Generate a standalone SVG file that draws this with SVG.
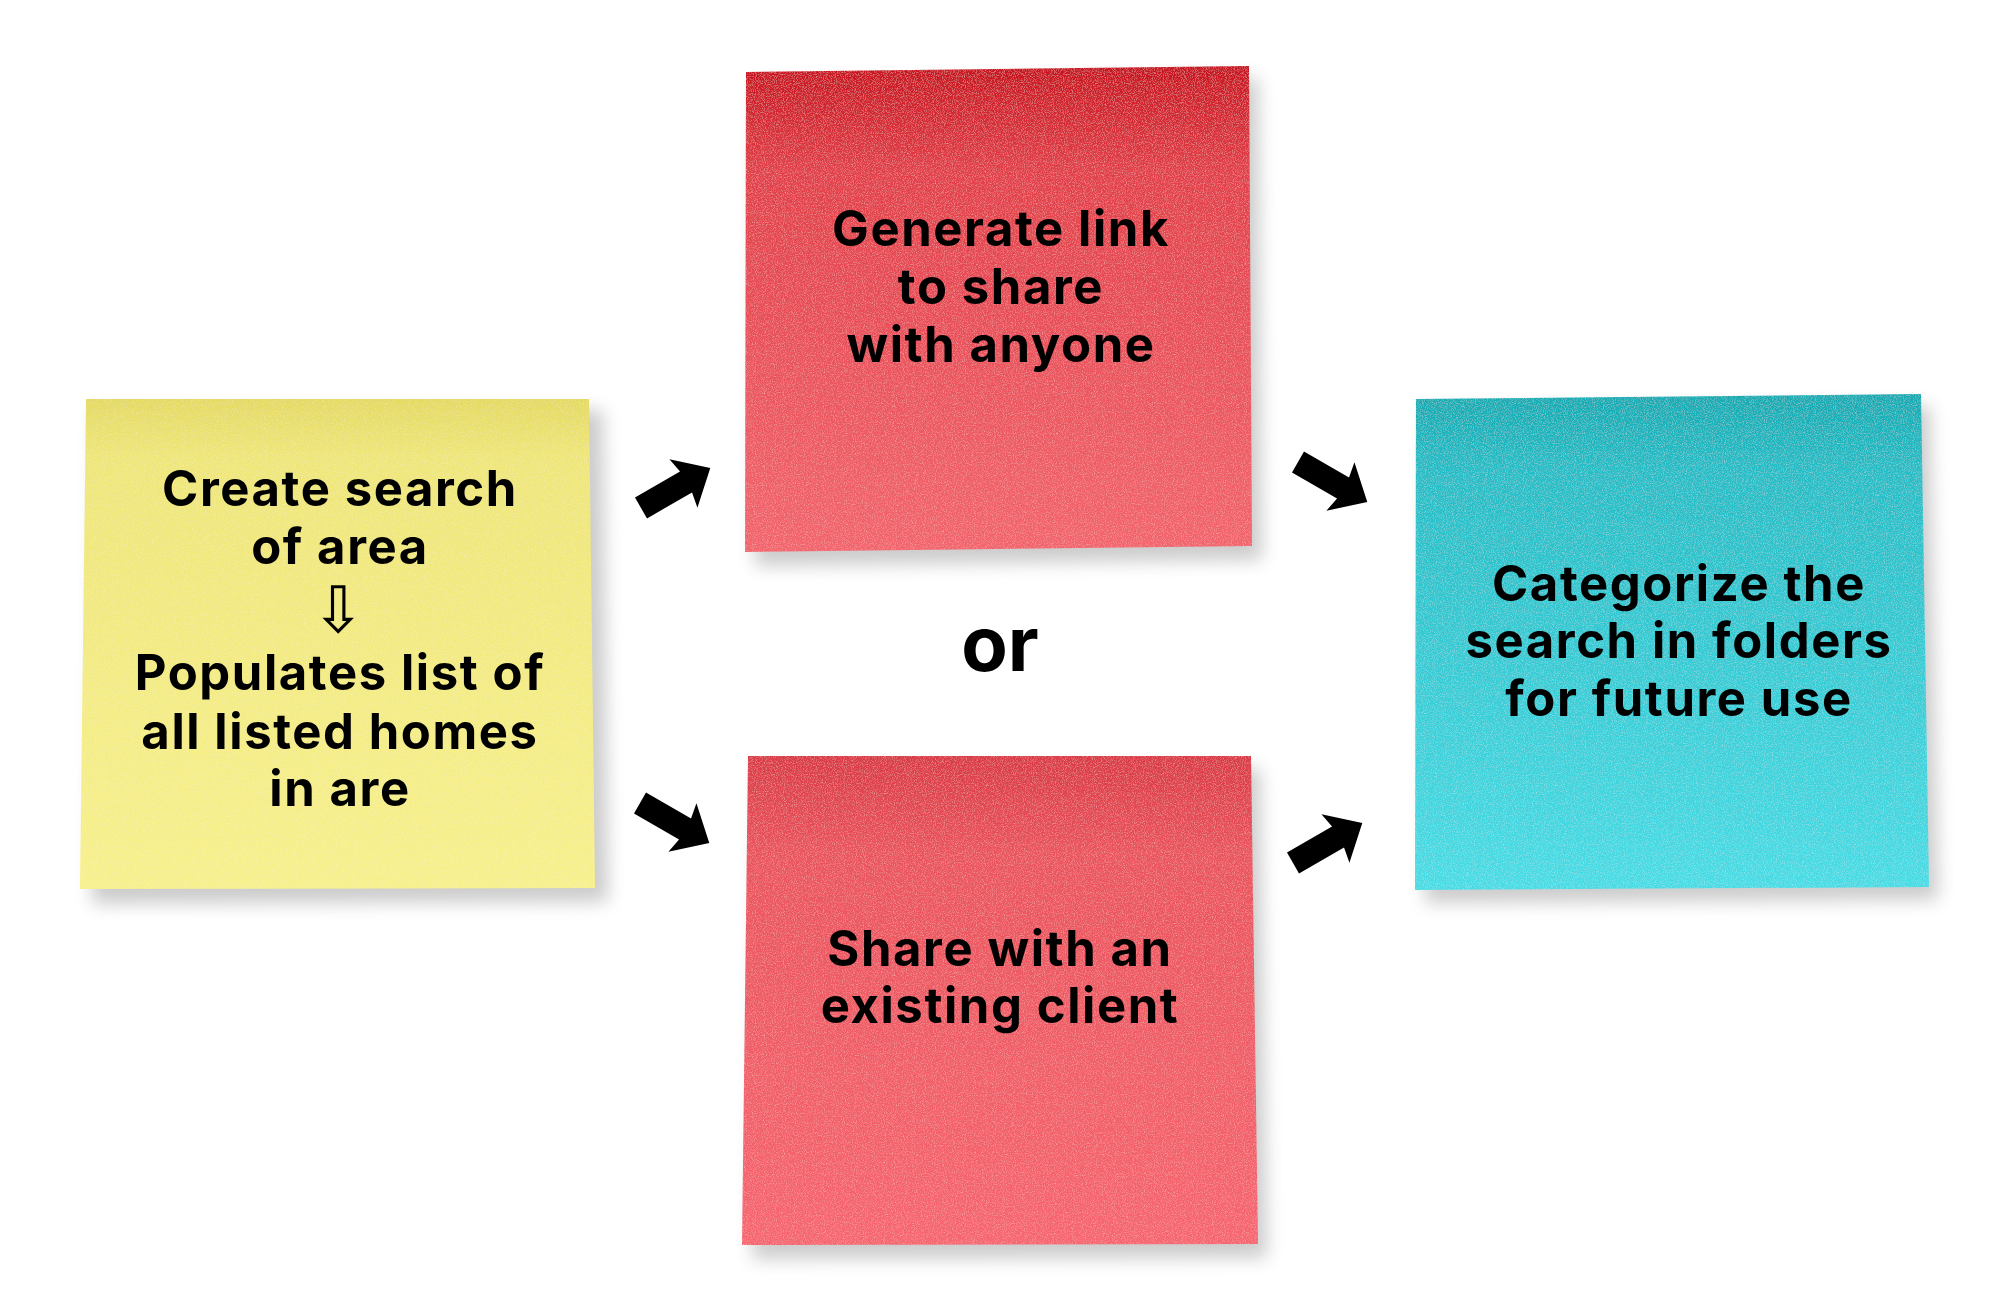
<svg xmlns="http://www.w3.org/2000/svg" width="2000" height="1311" viewBox="0 0 2000 1311">
<style>
.t{font-family:Inter,"Noto Sans","Liberation Sans",sans-serif;font-weight:700;font-size:49px;fill:#000;text-anchor:middle;letter-spacing:1.6px}
.or{font-family:Inter,"Noto Sans","Liberation Sans",sans-serif;font-weight:700;font-size:76px;fill:#000;text-anchor:middle}
.sym{font-family:"DejaVu Sans",sans-serif;font-size:64px;fill:#000;text-anchor:middle}
.arrow{fill:#000}
.shadow{fill:#000;opacity:0.2;filter:url(#blur)}
</style>
<defs>
<filter id="blur" x="-20%" y="-20%" width="140%" height="140%"><feGaussianBlur stdDeviation="9"/></filter>
<filter id="paper" x="0" y="0" width="100%" height="100%">
<feTurbulence type="fractalNoise" baseFrequency="0.9" numOctaves="2" seed="4" result="n"/>
<feColorMatrix in="n" type="matrix" values="0 0 0 0 1  0 0 0 0 1  0 0 0 0 1  0.6 0 0 0 -0.28" result="w"/>
<feComposite in="w" in2="SourceAlpha" operator="in" result="wc"/>
<feMerge><feMergeNode in="SourceGraphic"/><feMergeNode in="wc"/></feMerge>
</filter>
<linearGradient id="gY" x1="0" y1="0" x2="0" y2="1"><stop offset="0" stop-color="#e4da62"/><stop offset="0.12" stop-color="#efe679"/><stop offset="1" stop-color="#f7f08c"/></linearGradient>
<linearGradient id="gR1" x1="0" y1="0" x2="0" y2="1"><stop offset="0" stop-color="#c8141f"/><stop offset="0.22" stop-color="#e2404a"/><stop offset="1" stop-color="#f2656d"/></linearGradient>
<linearGradient id="gR2" x1="0" y1="0" x2="0" y2="1"><stop offset="0" stop-color="#da3a45"/><stop offset="0.2" stop-color="#ea545d"/><stop offset="1" stop-color="#f66670"/></linearGradient>
<linearGradient id="gT" x1="0" y1="0" x2="0" y2="1"><stop offset="0" stop-color="#12abb3"/><stop offset="0.15" stop-color="#24bdc6"/><stop offset="1" stop-color="#48dce5"/></linearGradient>
<polygon id="arr" points="0,-12 52,-12 49,-28 80,0 49,28 52,12 0,12"/>
</defs>
<rect width="2000" height="1311" fill="#ffffff"/>

<g id="note-create-search">
<polygon class="shadow" points="96,412 603,410 608,902 92,904"/>
<polygon points="86,399 589,399 595,888 80,889" fill="url(#gY)" filter="url(#paper)"/>
<text class="t" x="340" y="506">Create search</text>
<text class="t" x="340" y="564">of area</text>
<text class="sym" x="338" y="632">⇩</text>
<text class="t" x="340" y="690">Populates list of</text>
<text class="t" x="340" y="749">all listed homes</text>
<text class="t" x="340" y="806">in are</text>
</g>

<g id="note-generate-link">
<polygon class="shadow" points="756,84 1258,78 1262,560 755,566"/>
<polygon points="746,72 1249,66 1252,546 745,552" fill="url(#gR1)" filter="url(#paper)"/>
<text class="t" x="1001" y="246">Generate link</text>
<text class="t" x="1001" y="304">to share</text>
<text class="t" x="1001" y="362">with anyone</text>
</g>

<g id="note-share-client">
<polygon class="shadow" points="758,768 1260,768 1267,1258 752,1259"/>
<polygon points="748,756 1251,756 1258,1244 742,1245" fill="url(#gR2)" filter="url(#paper)"/>
<text class="t" x="1000" y="966">Share with an</text>
<text class="t" x="1000" y="1023">existing client</text>
</g>

<g id="note-categorize">
<polygon class="shadow" points="1426,410 1930,406 1938,900 1425,903"/>
<polygon points="1416,399 1921,394 1929,887 1415,890" fill="url(#gT)" filter="url(#paper)"/>
<text class="t" x="1679" y="601">Categorize the</text>
<text class="t" x="1679" y="658">search in folders</text>
<text class="t" x="1679" y="716">for future use</text>
</g>

<g id="label-or">
<text class="or" x="1000" y="671">or</text>
</g>

<g id="connectors">
<use href="#arr" class="arrow" transform="translate(641,508) rotate(-30)"/>
<use href="#arr" class="arrow" transform="translate(640,803) rotate(30)"/>
<use href="#arr" class="arrow" transform="translate(1298,462) rotate(30)"/>
<use href="#arr" class="arrow" transform="translate(1293,863) rotate(-30)"/>
</g>
</svg>
